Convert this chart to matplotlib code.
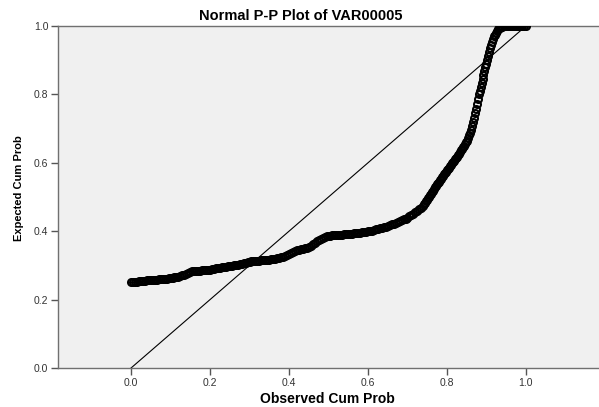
import matplotlib
matplotlib.use('Agg')
import matplotlib.pyplot as plt

# values
observed_cum_prob = [
    0.000, 0.005, 0.010, 0.015, 0.020, 0.025, 0.030, 0.035, 0.040, 0.045,
    0.050, 0.055, 0.060, 0.065, 0.070, 0.075, 0.080, 0.085, 0.090, 0.095,
    0.100, 0.105, 0.110, 0.115, 0.120, 0.125, 0.130, 0.135, 0.140, 0.145,
    0.150, 0.155, 0.160, 0.165, 0.170, 0.175, 0.180, 0.185, 0.190, 0.195,
    0.200, 0.205, 0.210, 0.215, 0.220, 0.225, 0.230, 0.235, 0.240, 0.245,
    0.250, 0.255, 0.260, 0.265, 0.270, 0.275, 0.280, 0.285, 0.290, 0.295,
    0.300, 0.305, 0.310, 0.315, 0.320, 0.325, 0.330, 0.335, 0.340, 0.345,
    0.350, 0.355, 0.360, 0.365, 0.370, 0.375, 0.380, 0.385, 0.390, 0.395,
    0.400, 0.405, 0.410, 0.415, 0.420, 0.425, 0.430, 0.435, 0.440, 0.445,
    0.450, 0.455, 0.460, 0.465, 0.470, 0.475, 0.480, 0.485, 0.490, 0.495,
    0.500, 0.505, 0.510, 0.515, 0.520, 0.525, 0.530, 0.535, 0.540, 0.545,
    0.550, 0.555, 0.560, 0.565, 0.570, 0.575, 0.580, 0.585, 0.590, 0.595,
    0.600, 0.605, 0.610, 0.615, 0.620, 0.625, 0.630, 0.635, 0.640, 0.645,
    0.650, 0.655, 0.660, 0.665, 0.670, 0.675, 0.680, 0.685, 0.690, 0.695,
    0.700, 0.705, 0.710, 0.715, 0.720, 0.725, 0.730, 0.735,
    0.7400, 0.7425, 0.7450, 0.7475, 0.7500, 0.7525, 0.7550, 0.7575,
    0.7600, 0.7625, 0.7650, 0.7675, 0.7700, 0.7725, 0.7750, 0.7775,
    0.7800, 0.7825, 0.7850, 0.7875, 0.7900, 0.7925, 0.7950, 0.7975,
    0.8000, 0.8025, 0.8050, 0.8075, 0.8100, 0.8125, 0.8150, 0.8175,
    0.8200, 0.8225, 0.8250, 0.8275, 0.8300, 0.8325, 0.8350, 0.8375,
    0.8400, 0.8425, 0.8450, 0.8475, 0.8500, 0.8525, 0.8550, 0.8575,
    0.8600, 0.8625, 0.8650, 0.8675, 0.8700, 0.8725, 0.8750, 0.8775,
    0.8800, 0.8825, 0.8850, 0.8875, 0.8900, 0.8925, 0.8950, 0.8975,
    0.9000, 0.9025, 0.9050, 0.9075, 0.9100, 0.9125, 0.9150, 0.9175,
    0.9200, 0.9225, 0.9250, 0.9275, 0.9300, 0.9325, 0.9350, 0.9375,
    0.9400, 0.945, 0.950, 0.955, 0.960, 0.965, 0.970, 0.975, 0.980,
    0.985, 0.990, 0.995, 1.000,
]

expected_cum_prob = [
    0.251, 0.251, 0.252, 0.252, 0.253, 0.253, 0.254, 0.255, 0.256, 0.256,
    0.257, 0.257, 0.258, 0.258, 0.259, 0.259, 0.260, 0.260, 0.261, 0.262,
    0.263, 0.264, 0.265, 0.266, 0.267, 0.269, 0.271, 0.273, 0.276, 0.278,
    0.281, 0.283, 0.284, 0.284, 0.285, 0.285, 0.286, 0.286, 0.287, 0.287,
    0.288, 0.289, 0.290, 0.291, 0.292, 0.293, 0.294, 0.295, 0.296, 0.297,
    0.298, 0.299, 0.300, 0.301, 0.302, 0.303, 0.305, 0.306, 0.308, 0.309,
    0.311, 0.312, 0.313, 0.313, 0.314, 0.314, 0.315, 0.315, 0.316, 0.316,
    0.317, 0.318, 0.319, 0.320, 0.321, 0.322, 0.324, 0.326, 0.328, 0.330,
    0.333, 0.336, 0.339, 0.341, 0.344, 0.345, 0.347, 0.348, 0.350, 0.352,
    0.355, 0.358, 0.362, 0.366, 0.370, 0.373, 0.377, 0.380, 0.383, 0.385,
    0.386, 0.387, 0.388, 0.388, 0.389, 0.389, 0.390, 0.390, 0.391, 0.391,
    0.392, 0.392, 0.393, 0.394, 0.395, 0.395, 0.396, 0.397, 0.398, 0.399,
    0.400, 0.401, 0.402, 0.403, 0.405, 0.406, 0.408, 0.409, 0.411, 0.413,
    0.415, 0.417, 0.420, 0.422, 0.425, 0.427, 0.430, 0.432, 0.435, 0.437,
    0.440, 0.443, 0.447, 0.451, 0.455, 0.459, 0.464, 0.469,
    0.475, 0.479, 0.483, 0.488, 0.492, 0.497, 0.501, 0.506,
    0.510, 0.515, 0.519, 0.524, 0.528, 0.532, 0.537, 0.541,
    0.545, 0.549, 0.554, 0.558, 0.562, 0.566, 0.570, 0.574,
    0.578, 0.582, 0.586, 0.590, 0.594, 0.598, 0.602, 0.606,
    0.610, 0.614, 0.618, 0.623, 0.627, 0.632, 0.636, 0.641,
    0.645, 0.650, 0.655, 0.660, 0.665, 0.672, 0.680, 0.687,
    0.695, 0.707, 0.720, 0.732, 0.745, 0.758, 0.772, 0.786,
    0.800, 0.811, 0.822, 0.834, 0.845, 0.856, 0.867, 0.879,
    0.890, 0.901, 0.912, 0.924, 0.935, 0.944, 0.953, 0.962,
    0.970, 0.975, 0.980, 0.985, 0.990, 0.993, 0.995, 0.997,
    0.998, 0.999, 0.999, 1.000, 1.000, 1.000, 1.000, 1.000, 1.000,
    1.000, 1.000, 1.000, 1.000,
]

diagonal = [0.0, 1.0]
x_ticks = [0.0, 0.2, 0.4, 0.6, 0.8, 1.0]
y_ticks = [0.0, 0.2, 0.4, 0.6, 0.8, 1.0]

plt.rcParams['font.family'] = ['Liberation Sans', 'DejaVu Sans']

fig = plt.figure(figsize=(5.99, 4.07), dpi=100)
ax = fig.add_axes([58 / 599, 39 / 407, 541 / 599, 342 / 407])
ax.set_facecolor('#f0f0f0')

ax.plot(diagonal, diagonal, color='black', lw=0.8, zorder=2)
ax.plot(observed_cum_prob, expected_cum_prob, ls='none', marker='o', ms=5,
        mfc='none', mec='black', mew=1.5, zorder=3)

ax.set_xlim(-0.185, 1.185)
ax.set_ylim(0, 1)
ax.set_xticks(x_ticks)
ax.set_yticks(y_ticks)
ax.set_xticklabels(['%.1f' % t for t in x_ticks])
ax.set_yticklabels(['%.1f' % t for t in y_ticks])

for side in ['left', 'bottom', 'top']:
    ax.spines[side].set_color('#707070')
    ax.spines[side].set_linewidth(1.0)
ax.spines['right'].set_visible(False)

ax.tick_params(direction='out', length=5, width=1, color='#555555',
               labelsize=7.5, labelcolor='#333333', pad=2)

fig.text(301 / 599, 1 - 15.5 / 407, 'Normal P-P Plot of VAR00005',
         ha='center', va='center', fontsize=10.5, fontweight='bold')
fig.text(327 / 599, 1 - 399 / 407, 'Observed Cum Prob',
         ha='center', va='center', fontsize=10, fontweight='bold')
fig.text(19 / 599, 1 - 188 / 407, 'Expected Cum Prob', rotation=90,
         ha='center', va='center', fontsize=8, fontweight='bold')

fig.savefig('out.png', dpi=100)
